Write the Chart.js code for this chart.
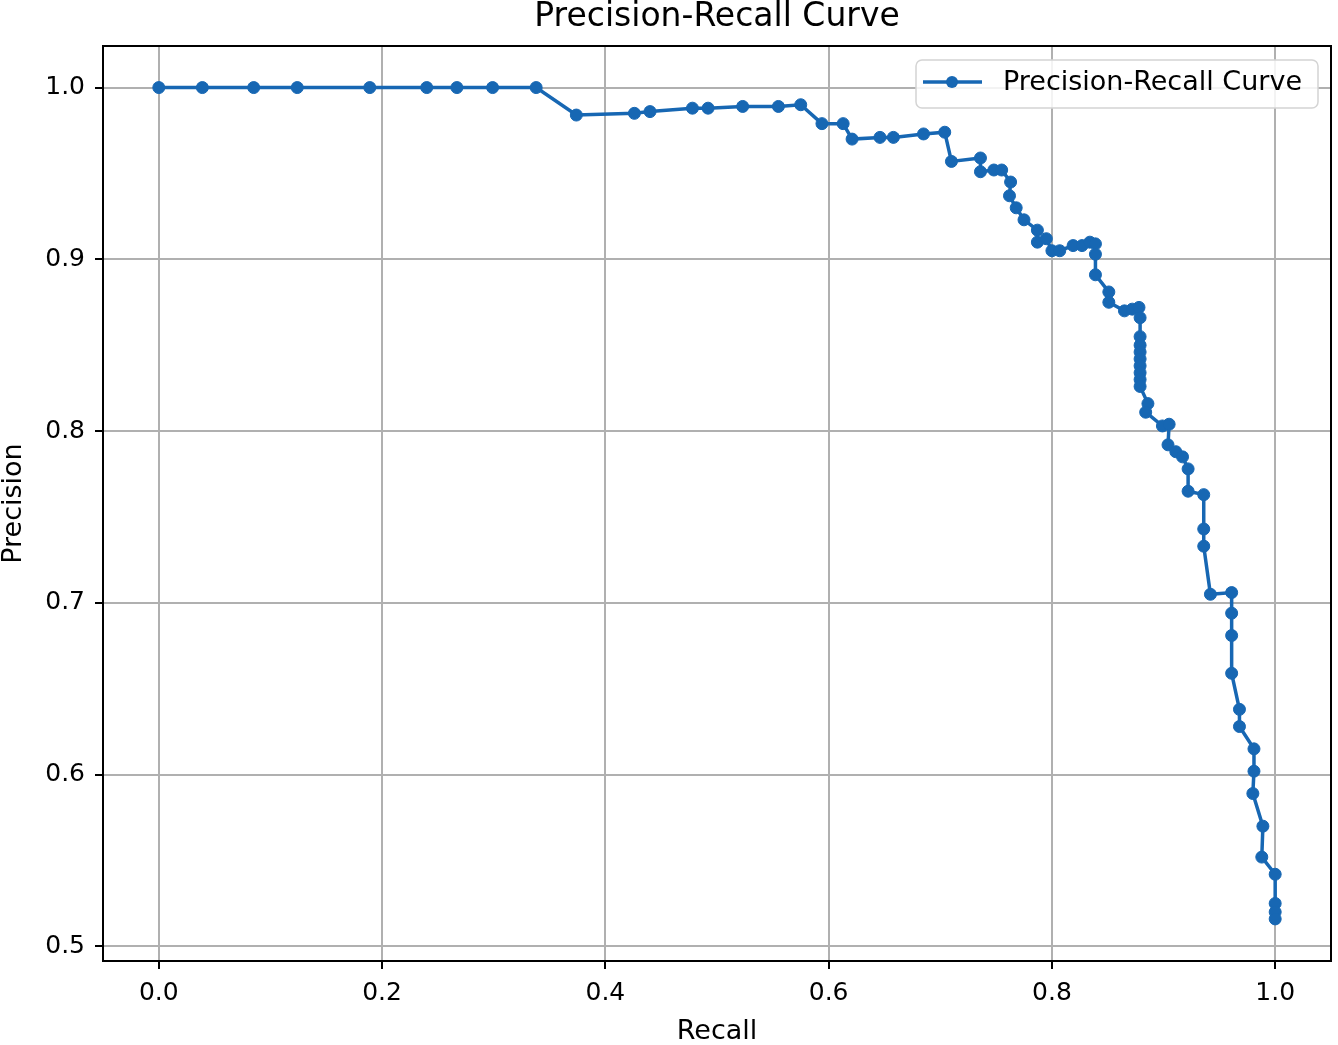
<!DOCTYPE html>
<html>
<head>
<meta charset="utf-8">
<script src="https://cdn.jsdelivr.net/npm/chart.js@4.4.1/dist/chart.umd.min.js"></script>
<style>
  html, body { margin: 0; padding: 0; background: #fff; }
  #wrap { width: 1338px; height: 1045px; }
</style>
</head>
<body>
<div id="wrap"><canvas id="prChart" width="1338" height="1045"></canvas></div>
<script>
// values
var recall = [0.000, 0.039, 0.085, 0.124, 0.189, 0.240, 0.267, 0.299, 0.338,
    0.374, 0.426, 0.440, 0.478, 0.492, 0.523, 0.555, 0.575, 0.594, 0.613, 0.621,
    0.646, 0.658, 0.685, 0.704, 0.710, 0.736, 0.736, 0.748, 0.755, 0.763, 0.762,
    0.768, 0.775, 0.787, 0.787, 0.795, 0.800, 0.807, 0.819, 0.827, 0.834, 0.839,
    0.839, 0.839, 0.851, 0.851, 0.865, 0.872, 0.878, 0.879,
    0.879, 0.879, 0.879, 0.879, 0.879, 0.879, 0.879, 0.879,
    0.886, 0.884, 0.899, 0.905, 0.904, 0.911, 0.917, 0.922, 0.922, 0.936, 0.936,
    0.936, 0.942, 0.961, 0.961, 0.961, 0.961, 0.968, 0.968, 0.981, 0.981, 0.980,
    0.989, 0.988, 1.000, 1.000, 1.000, 1.000];
var precision = [1.000, 1.000, 1.000, 1.000, 1.000, 1.000, 1.000, 1.000, 1.000,
    0.984, 0.985, 0.986, 0.988, 0.988, 0.989, 0.989, 0.990, 0.979, 0.979, 0.970,
    0.971, 0.971, 0.973, 0.974, 0.957, 0.959, 0.951, 0.952, 0.952, 0.945, 0.937,
    0.930, 0.923, 0.917, 0.910, 0.912, 0.905, 0.905, 0.908, 0.908, 0.910, 0.909,
    0.903, 0.891, 0.881, 0.875, 0.870, 0.871, 0.872, 0.866,
    0.855, 0.850, 0.846, 0.842, 0.838, 0.834, 0.830, 0.826,
    0.816, 0.811, 0.803, 0.804, 0.792, 0.788, 0.785, 0.778, 0.765, 0.763, 0.743,
    0.733, 0.705, 0.706, 0.694, 0.681, 0.659, 0.638, 0.628, 0.615, 0.602, 0.589,
    0.570, 0.552, 0.542, 0.525, 0.520, 0.516];
var xTicks = [0.0, 0.2, 0.4, 0.6, 0.8, 1.0];
var yTicks = [0.5, 0.6, 0.7, 0.8, 0.9, 1.0];
var seriesName = "Precision-Recall Curve";

var lineBlue = "#1767b3";
var gridGrey = "#b0b0b0";
var fontFam = "'DejaVu Sans', sans-serif";

var points = recall.map(function (r, i) { return {x: r, y: precision[i]}; });

var frameAndLegend = {
    id: "frameAndLegend",
    afterDraw: function (chart) {
        var ctx = chart.ctx;
        var a = chart.chartArea;
        ctx.save();
        ctx.strokeStyle = "#000";
        ctx.lineWidth = 2;
        ctx.strokeRect(a.left, a.top, a.right - a.left, a.bottom - a.top);

        // legend box, top right inside the plot
        var bx = 916, by = 60, bw = 402, bh = 48, rad = 6;
        ctx.beginPath();
        ctx.moveTo(bx + rad, by);
        ctx.arcTo(bx + bw, by, bx + bw, by + bh, rad);
        ctx.arcTo(bx + bw, by + bh, bx, by + bh, rad);
        ctx.arcTo(bx, by + bh, bx, by, rad);
        ctx.arcTo(bx, by, bx + bw, by, rad);
        ctx.closePath();
        ctx.fillStyle = "rgba(255,255,255,0.85)";
        ctx.fill();
        ctx.strokeStyle = "#d4d4d4";
        ctx.lineWidth = 1.5;
        ctx.stroke();

        ctx.strokeStyle = lineBlue;
        ctx.lineWidth = 3.5;
        ctx.beginPath();
        ctx.moveTo(923, 82);
        ctx.lineTo(982, 82);
        ctx.stroke();
        ctx.fillStyle = lineBlue;
        ctx.beginPath();
        ctx.arc(952, 82, 6, 0, Math.PI * 2);
        ctx.fill();

        ctx.fillStyle = "#000";
        ctx.font = "27px " + fontFam;
        ctx.textAlign = "left";
        ctx.textBaseline = "middle";
        ctx.fillText(seriesName, 1003, 83);
        ctx.restore();
    }
};

new Chart(document.getElementById("prChart"), {
    type: "scatter",
    data: {
        datasets: [{
            label: seriesName,
            data: points,
            showLine: true,
            borderColor: lineBlue,
            backgroundColor: lineBlue,
            borderWidth: 3.5,
            pointRadius: 6,
            pointBorderWidth: 1,
            pointBorderColor: lineBlue,
            pointBackgroundColor: lineBlue,
            tension: 0
        }]
    },
    options: {
        responsive: false,
        animation: false,
        devicePixelRatio: 1,
        layout: { padding: { left: 0, right: 6, top: 0, bottom: 0 } },
        plugins: {
            legend: { display: false },
            tooltip: { enabled: false },
            title: {
                display: true,
                text: "Precision-Recall Curve",
                fullSize: false,
                color: "#000",
                font: { family: fontFam, size: 33, weight: "normal", lineHeight: 1 },
                padding: { top: 1, bottom: 12 }
            }
        },
        scales: {
            x: {
                type: "linear",
                min: -0.05,
                max: 1.05,
                afterBuildTicks: function (s) { s.ticks = xTicks.map(function (v) { return {value: v}; }); },
                afterFit: function (s) { s.height = 84; },
                ticks: {
                    color: "#000",
                    padding: 9,
                    font: { family: fontFam, size: 25 },
                    callback: function (v) { return v.toFixed(1); }
                },
                grid: { color: gridGrey, lineWidth: 2, tickColor: "#000", tickLength: 8, tickWidth: 2 },
                border: { color: "#000", width: 2 },
                title: {
                    display: true,
                    text: "Recall",
                    color: "#000",
                    font: { family: fontFam, size: 27, lineHeight: 1 },
                    padding: 0
                }
            },
            y: {
                type: "linear",
                min: 0.4915,
                max: 1.0242,
                afterBuildTicks: function (s) { s.ticks = yTicks.map(function (v) { return {value: v}; }); },
                afterFit: function (s) { s.width = 103; },
                ticks: {
                    color: "#000",
                    padding: 10,
                    font: { family: fontFam, size: 25 },
                    callback: function (v) { return v.toFixed(1); }
                },
                grid: { color: gridGrey, lineWidth: 2, tickColor: "#000", tickLength: 8, tickWidth: 2 },
                border: { color: "#000", width: 2 },
                title: {
                    display: true,
                    text: "Precision",
                    color: "#000",
                    font: { family: fontFam, size: 27, lineHeight: 1 },
                    padding: 0
                }
            }
        }
    },
    plugins: [frameAndLegend]
});
</script>
</body>
</html>
